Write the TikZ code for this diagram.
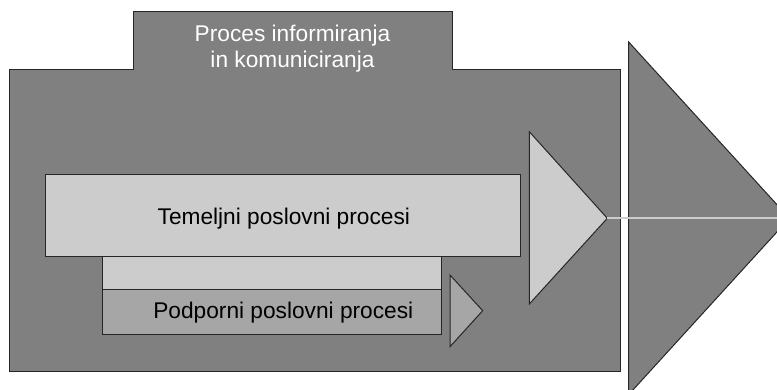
\documentclass[tikz,border=0pt]{standalone}
\usepackage{fontspec}
\setmainfont{Liberation Sans}
\usepackage{tikz}

\begin{document}
\begin{tikzpicture}[x=1pt,y=-1pt]
				\tikzstyle{rob}=[draw=black!85, line width=1pt, line join=miter]
				\tikzstyle{temna}=[rob, fill=black!50]
				\tikzstyle{svetla}=[rob, fill=black!20]
				\tikzstyle{srednja}=[rob, fill=black!35]
				\tikzstyle{pravok}=[rectangle, inner sep=0pt, outer sep=0pt]
				\tikzstyle{napis}=[inner sep=0pt, font=\fontsize{22.7}{25.6}\selectfont]

				\useasboundingbox (0,0) rectangle (777,390);

				% okvir
				\draw[temna] (9,70) -- (133,70) -- (133,12) -- (452,12) -- (452,70)
					-- (620,70) -- (620,371.7) -- (9,371.7) -- cycle;
				\draw[temna] (628.7,42) -- (789.4,218.3) -- (628.7,394.6) -- cycle;

				\node[pravok,svetla,minimum width=338.7pt,minimum height=33.3pt] (pas) at (272.3,273.3) {};
				\node[pravok,srednja,minimum width=338.7pt,minimum height=44pt] (podporni) at (272.3,312) {};
				\node[pravok,svetla,minimum width=475.3pt,minimum height=81.7pt] (temeljni) at (283.3,215.8) {};

				\draw[srednja] (450,275) -- (482.7,310.7) -- (450,346.7) -- cycle;
				\draw[svetla] (529.3,131.7) -- (607.3,218.3) coordinate (vrh) -- (529.3,304) -- cycle;

				\node[napis,text=white,align=center] (proces) at (292.5,48.8) {Proces informiranja\\in komuniciranja};
				\node[napis,anchor=base] (ttemeljni) at (283.8,224.3) {Temeljni poslovni procesi};
				\node[napis,anchor=base] (tpodporni) at (283.3,318.3) {Podporni poslovni procesi};

				\coordinate (rob) at (777,218.3);
				\draw[black!20, line width=1.8pt] (vrh) -- (rob);
			\end{tikzpicture}
\end{document}
